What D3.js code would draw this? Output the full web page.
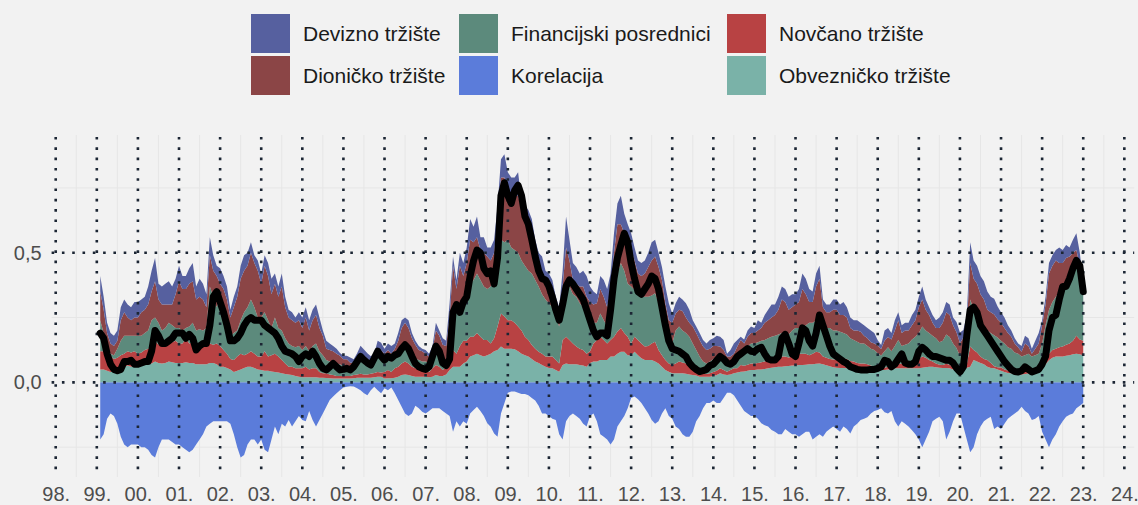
<!DOCTYPE html>
<html>
<head>
<meta charset="utf-8">
<script src="https://cdn.jsdelivr.net/npm/d3@7.9.0/dist/d3.min.js"></script>
<style>
  html, body { margin: 0; padding: 0; background: #f2f2f2; }
  svg { display: block; font-family: "Liberation Sans", Arial, sans-serif; }
</style>
</head>
<body>
<svg id="chart" width="1138" height="505"></svg>
<script>
// monthly values, Feb 1999 .. Jan 2023 (one line per year)
const obveznicko = [
  .05,.05,.045,.04,.045,.05,.06,.06,.065,.06,.065,
  .065,.065,.067,.07,.073,.08,.075,.073,.075,.08,.078,.075,
  .075,.075,.078,.075,.075,.07,.07,.07,.07,.075,.075,.07,
  .06,.06,.055,.05,.04,.045,.05,.055,.06,.06,.055,.05,
  .048,.045,.045,.042,.04,.038,.035,.032,.03,.028,.025,.022,
  .02,.02,.02,.02,.02,.018,.018,.017,.016,.015,.015,.015,
  .015,.015,.015,.016,.018,.018,.018,.018,.018,.02,.022,.022,
  .015,.016,.016,.018,.022,.028,.03,.028,.025,.022,.022,.022,
  .022,.02,.022,.028,.025,.025,.03,.048,.06,.06,.06,.073,
  .08,.10,.105,.11,.105,.10,.105,.11,.12,.125,.138,.13,
  .13,.13,.128,.12,.11,.105,.10,.09,.08,.075,.067,.06,
  .055,.054,.048,.041,.067,.073,.07,.07,.07,.067,.065,.06,
  .075,.08,.08,.086,.086,.086,.10,.10,.11,.118,.118,.105,
  .105,.118,.105,.093,.086,.086,.086,.08,.073,.06,.048,.041,
  .035,.035,.035,.035,.033,.03,.028,.026,.022,.022,.022,.022,
  .025,.028,.035,.03,.028,.03,.035,.038,.041,.042,.045,.048,
  .048,.05,.05,.052,.054,.056,.058,.06,.06,.062,.063,.065,
  .065,.067,.067,.068,.07,.07,.072,.073,.07,.066,.062,.058,
  .056,.055,.055,.054,.052,.05,.05,.05,.05,.05,.05,.048,
  .048,.048,.048,.05,.052,.054,.054,.054,.054,.054,.054,.054,
  .054,.056,.058,.06,.06,.058,.056,.055,.055,.054,.05,.045,
  .05,.052,.056,.06,.086,.08,.075,.07,.06,.055,.054,.05,
  .045,.04,.036,.035,.032,.03,.03,.032,.034,.036,.038,.04,
  .05,.07,.085,.095,.10,.10,.10,.103,.105,.108,.11,.108,
  .105
];
const novcano = [
  .07,.07,.065,.06,.045,.045,.045,.05,.055,.055,.055,
  .045,.05,.058,.06,.072,.08,.07,.067,.07,.08,.077,.085,
  .075,.075,.092,.075,.08,.07,.06,.07,.075,.075,.07,.08,
  .08,.065,.055,.04,.046,.055,.06,.05,.05,.06,.055,.05,
  .052,.075,.055,.063,.07,.062,.051,.041,.03,.032,.029,.032,
  .034,.04,.03,.034,.034,.022,.017,.018,.014,.013,.01,.01,
  .01,.01,.01,.012,.012,.015,.012,.012,.015,.016,.018,.016,
  .025,.032,.024,.036,.038,.045,.05,.045,.035,.032,.026,.026,
  .026,.02,.032,.039,.035,.023,.03,.038,.065,.05,.08,.087,
  .08,.076,.071,.08,.071,.063,.058,.04,.05,.09,.128,.124,
  .11,.11,.102,.095,.09,.071,.063,.054,.05,.043,.043,.04,
  .045,.046,.038,.032,.096,.103,.093,.08,.068,.063,.06,.05,
  .045,.07,.083,.09,.077,.064,.063,.076,.086,.092,.072,.071,
  .045,.058,.058,.057,.052,.054,.064,.077,.052,.045,.038,.032,
  .032,.038,.045,.042,.04,.037,.026,.022,.015,.01,.01,.013,
  .015,.017,.019,.018,.013,.018,.019,.016,.026,.022,.023,.025,
  .025,.025,.028,.028,.032,.034,.035,.036,.04,.038,.033,.035,
  .045,.043,.043,.042,.035,.04,.046,.042,.03,.029,.028,.03,
  .032,.035,.038,.036,.03,.03,.025,.023,.023,.02,.015,.012,
  .008,.008,.008,.01,.008,.011,.019,.018,.019,.019,.022,.026,
  .036,.044,.037,.026,.02,.015,.012,.012,.017,.014,.01,.008,
  .008,.008,.014,.078,.039,.035,.025,.02,.026,.02,.008,.008,
  .012,.01,.01,.008,.008,.008,.008,.01,.01,.01,.01,.01,
  .02,.02,.025,.03,.03,.035,.038,.042,.045,.052,.07,.057,
  .055
];
const financijski = [
  .12,.07,.03,.01,.015,.035,.055,.07,.06,.065,.06,
  .07,.065,.065,.07,.095,.09,.085,.06,.065,.07,.065,.05,
  .06,.05,.04,.065,.075,.06,.075,.06,.065,.22,.185,.14,
  .19,.165,.13,.09,.104,.10,.13,.165,.18,.20,.18,.15,
  .15,.15,.14,.105,.14,.11,.114,.097,.09,.08,.081,.086,
  .071,.08,.07,.086,.096,.08,.07,.051,.05,.045,.048,.045,
  .038,.038,.032,.029,.045,.048,.045,.039,.028,.038,.06,.045,
  .033,.038,.04,.046,.06,.067,.06,.052,.04,.039,.038,.032,
  .032,.035,.032,.043,.04,.032,.026,.074,.18,.16,.165,.17,
  .18,.204,.219,.23,.219,.207,.197,.22,.225,.27,.284,.286,
  .31,.28,.28,.285,.27,.274,.267,.276,.265,.252,.23,.22,
  .205,.19,.164,.142,.117,.204,.207,.19,.192,.175,.165,.156,
  .12,.08,.067,.09,.077,.065,.103,.194,.224,.25,.24,.204,
  .22,.181,.181,.18,.192,.19,.185,.187,.18,.161,.129,.09,
  .083,.127,.135,.123,.117,.109,.096,.077,.063,.048,.041,.045,
  .05,.05,.046,.038,.032,.032,.032,.051,.058,.046,.07,.077,
  .077,.08,.082,.083,.084,.086,.087,.089,.09,.09,.089,.10,
  .10,.10,.105,.11,.125,.12,.122,.125,.115,.115,.12,.112,
  .112,.105,.097,.095,.088,.083,.082,.077,.077,.07,.065,.065,
  .056,.048,.064,.075,.06,.075,.09,.068,.072,.077,.089,.096,
  .10,.115,.105,.104,.10,.097,.087,.093,.113,.107,.09,.08,
  .044,.042,.06,.182,.155,.155,.14,.13,.114,.115,.12,.115,
  .103,.10,.089,.087,.075,.072,.062,.063,.066,.054,.057,.06,
  .08,.13,.17,.185,.20,.215,.232,.245,.26,.27,.27,.255,
  .20
];
const dionicko = [
  .11,.09,.05,.04,.035,.03,.08,.09,.07,.06,.07,
  .07,.09,.09,.10,.11,.14,.09,.10,.09,.07,.08,.13,
  .18,.16,.15,.165,.16,.12,.125,.12,.08,.12,.10,.12,
  .05,.07,.08,.07,.10,.13,.16,.16,.16,.18,.17,.18,
  .13,.18,.17,.13,.13,.12,.17,.12,.10,.10,.095,.10,
  .085,.11,.08,.10,.11,.09,.075,.044,.045,.047,.037,.033,
  .026,.026,.019,.019,.02,.025,.02,.019,.02,.027,.03,.04,
  .037,.039,.03,.03,.04,.07,.09,.085,.07,.052,.039,.04,
  .03,.025,.039,.09,.08,.065,.054,.09,.145,.09,.145,.08,
  .12,.17,.145,.14,.115,.13,.125,.10,.105,.145,.24,.25,
  .19,.16,.21,.22,.195,.19,.18,.155,.115,.08,.08,.05,
  .055,.04,.04,.035,.09,.14,.10,.055,.05,.065,.08,.064,
  .07,.07,.075,.094,.09,.075,.094,.13,.19,.15,.145,.14,
  .14,.113,.076,.08,.09,.115,.135,.141,.14,.129,.09,.077,
  .08,.066,.065,.075,.06,.054,.065,.065,.063,.058,.052,.05,
  .05,.045,.038,.039,.027,.02,.024,.033,.038,.04,.038,.04,
  .04,.045,.05,.067,.07,.074,.08,.095,.13,.12,.095,.09,
  .09,.10,.145,.12,.08,.08,.13,.16,.075,.06,.06,.08,
  .08,.065,.07,.065,.04,.037,.043,.045,.03,.03,.025,.025,
  .03,.025,.04,.04,.045,.06,.077,.05,.055,.05,.055,.064,
  .10,.105,.08,.07,.05,.04,.055,.07,.085,.085,.07,.06,
  .05,.07,.09,.14,.12,.11,.10,.10,.08,.08,.08,.07,
  .07,.06,.055,.046,.035,.025,.018,.045,.03,.01,.025,.04,
  .07,.08,.14,.14,.14,.11,.09,.09,.075,.07,.06,.03,
  .01
];
const devizno = [
  .06,.05,.04,.04,.04,.04,.05,.05,.05,.05,.06,
  .06,.05,.05,.07,.08,.09,.06,.07,.08,.09,.07,.06,
  .06,.05,.05,.06,.07,.05,.07,.06,.05,.07,.06,.04,
  .06,.05,.05,.03,.04,.04,.05,.06,.05,.04,.03,.04,
  .04,.04,.05,.06,.04,.04,.05,.04,.03,.03,.02,.03,
  .04,.04,.04,.04,.04,.04,.02,.03,.025,.02,.02,.01,
  .014,.014,.02,.013,.017,.035,.032,.024,.02,.01,.03,.03,
  .02,.025,.03,.02,.03,.03,.02,.03,.02,.015,.015,.01,
  .015,.01,.015,.03,.02,.025,.02,.055,.035,.035,.05,.05,
  .06,.08,.06,.08,.05,.06,.035,.05,.05,.05,.07,.09,
  .07,.11,.07,.09,.035,.04,.055,.055,.04,.05,.065,.06,
  .06,.065,.04,.04,.06,.12,.08,.065,.065,.05,.06,.08,
  .06,.05,.035,.05,.065,.07,.06,.075,.08,.11,.075,.09,
  .065,.05,.05,.05,.05,.055,.07,.065,.055,.05,.065,.065,
  .036,.039,.05,.045,.055,.05,.025,.025,.027,.025,.025,.033,
  .03,.04,.038,.038,.01,.025,.04,.025,.013,.015,.024,.025,
  .02,.04,.02,.03,.04,.05,.04,.05,.05,.05,.05,.05,
  .04,.05,.06,.06,.05,.04,.05,.05,.03,.03,.03,.04,
  .04,.04,.05,.04,.04,.04,.04,.035,.04,.04,.045,.04,
  .02,.015,.04,.035,.025,.04,.03,.03,.03,.03,.04,.04,
  .04,.05,.04,.03,.03,.03,.04,.04,.04,.04,.03,.04,
  .04,.03,.04,.08,.07,.07,.07,.07,.07,.06,.06,.05,
  .04,.04,.03,.024,.02,.015,.022,.03,.03,.02,.03,.04,
  .02,.03,.04,.04,.04,.06,.05,.05,.035,.05,.065,.05,
  .01
];
const korelacija = [
  -.22,-.20,-.14,-.12,-.13,-.16,-.21,-.24,-.25,-.24,-.24,
  -.24,-.25,-.25,-.26,-.28,-.29,-.25,-.22,-.22,-.22,-.23,-.24,
  -.24,-.25,-.26,-.27,-.26,-.24,-.22,-.20,-.17,-.16,-.15,-.15,
  -.15,-.15,-.15,-.16,-.20,-.25,-.29,-.28,-.24,-.22,-.22,-.24,
  -.22,-.26,-.27,-.22,-.17,-.20,-.16,-.17,-.145,-.17,-.15,-.13,
  -.145,-.15,-.11,-.145,-.17,-.145,-.12,-.094,-.068,-.055,-.042,-.03,
  -.02,-.017,-.015,-.016,-.023,-.03,-.042,-.05,-.03,-.017,-.03,-.042,
  -.023,-.03,-.02,-.042,-.068,-.094,-.12,-.13,-.12,-.09,-.10,-.113,
  -.12,-.11,-.10,-.10,-.10,-.11,-.12,-.13,-.19,-.15,-.17,-.15,
  -.16,-.12,-.107,-.094,-.11,-.13,-.158,-.171,-.197,-.21,-.12,-.081,
  -.04,-.035,-.035,-.04,-.045,-.045,-.05,-.06,-.07,-.09,-.12,-.12,
  -.13,-.14,-.145,-.20,-.22,-.15,-.13,-.12,-.13,-.14,-.16,-.17,
  -.13,-.12,-.15,-.20,-.21,-.22,-.24,-.22,-.17,-.15,-.13,-.10,
  -.06,-.055,-.065,-.08,-.10,-.12,-.145,-.16,-.15,-.12,-.10,-.13,
  -.14,-.17,-.18,-.20,-.21,-.21,-.19,-.15,-.13,-.10,-.08,-.08,
  -.07,-.08,-.08,-.06,-.04,-.04,-.05,-.07,-.09,-.11,-.12,-.13,
  -.13,-.14,-.158,-.165,-.17,-.184,-.19,-.20,-.20,-.18,-.19,-.20,
  -.20,-.21,-.20,-.19,-.19,-.22,-.21,-.20,-.21,-.19,-.18,-.17,
  -.18,-.19,-.17,-.18,-.197,-.17,-.16,-.145,-.14,-.135,-.12,-.11,
  -.107,-.10,-.115,-.12,-.11,-.15,-.17,-.15,-.16,-.17,-.185,-.20,
  -.22,-.25,-.22,-.19,-.15,-.14,-.133,-.15,-.22,-.19,-.15,-.12,
  -.12,-.17,-.22,-.27,-.25,-.20,-.17,-.15,-.14,-.133,-.18,-.17,
  -.18,-.16,-.14,-.13,-.12,-.11,-.094,-.11,-.12,-.145,-.14,-.13,
  -.19,-.22,-.25,-.22,-.20,-.17,-.15,-.133,-.125,-.12,-.10,-.09,
  -.08
];
const indeks = [
  .19,.17,.11,.07,.05,.045,.05,.08,.08,.085,.07,
  .07,.075,.08,.08,.12,.20,.18,.15,.15,.16,.17,.19,
  .19,.19,.17,.185,.17,.125,.14,.15,.15,.22,.33,.35,
  .31,.27,.22,.16,.16,.17,.19,.22,.24,.25,.24,.24,
  .24,.22,.21,.20,.19,.17,.14,.12,.115,.11,.10,.08,
  .10,.11,.10,.12,.10,.073,.054,.048,.06,.073,.06,.048,
  .05,.054,.048,.06,.08,.10,.086,.075,.067,.093,.12,.10,
  .086,.10,.093,.105,.11,.13,.145,.13,.10,.073,.06,.054,
  .05,.06,.10,.14,.12,.075,.065,.09,.27,.30,.27,.31,
  .33,.41,.47,.51,.50,.44,.42,.43,.38,.48,.72,.77,
  .72,.69,.74,.76,.72,.64,.61,.55,.485,.43,.40,.395,
  .37,.33,.28,.24,.30,.37,.395,.38,.36,.34,.32,.28,
  .24,.20,.176,.19,.19,.18,.28,.40,.48,.53,.575,.54,
  .46,.40,.35,.34,.36,.38,.41,.40,.36,.29,.22,.16,
  .13,.125,.12,.11,.10,.075,.06,.05,.042,.045,.05,.065,
  .07,.085,.10,.09,.075,.07,.08,.10,.11,.12,.13,.12,
  .118,.13,.135,.11,.09,.086,.086,.10,.17,.185,.15,.11,
  .10,.15,.21,.20,.16,.14,.19,.26,.22,.18,.14,.11,
  .10,.09,.08,.073,.06,.055,.05,.048,.048,.048,.05,.05,
  .054,.06,.085,.08,.06,.07,.09,.11,.075,.07,.07,.08,
  .12,.135,.125,.11,.10,.10,.095,.09,.085,.085,.075,.055,
  .04,.06,.18,.28,.29,.27,.22,.20,.18,.16,.14,.12,
  .10,.08,.065,.05,.042,.04,.045,.06,.05,.04,.045,.05,
  .07,.10,.20,.25,.26,.32,.37,.37,.40,.44,.47,.45,
  .35
];
const yearTicks = d3.range(1998, 2025);
const yTicks = [0, 0.5];

const stackKeys = ['obveznicko', 'novcano', 'financijski', 'dionicko', 'devizno'];
const colors = {
  devizno: '#56609f',
  dionicko: '#8b4546',
  financijski: '#5c8a7c',
  korelacija: '#5b7cda',
  novcano: '#b84243',
  obveznicko: '#7ab2a8'
};
const legendItems = [
  { key: 'devizno', label: 'Devizno tržište' },
  { key: 'dionicko', label: 'Dioničko tržište' },
  { key: 'financijski', label: 'Financijski posrednici' },
  { key: 'korelacija', label: 'Korelacija' },
  { key: 'novcano', label: 'Novčano tržište' },
  { key: 'obveznicko', label: 'Obvezničko tržište' }
];

// build rows (first point is Feb 1999, one per month)
const rows = indeks.map((v, i) => ({
  t: 1999 + (i + 1) / 12,
  obveznicko: obveznicko[i],
  novcano: novcano[i],
  financijski: financijski[i],
  dionicko: dionicko[i],
  devizno: devizno[i],
  korelacija: korelacija[i],
  indeks: v
}));

const svg = d3.select('#chart');
const panel = { left: 51.6, right: 1134.2, top: 135, bottom: 477 };

const x = d3.scaleLinear().domain([1997.9, 2024.24]).range([panel.left, panel.right]);
const y = d3.scaleLinear().domain([-0.365, 0.954]).range([panel.bottom, panel.top]);

svg.append('rect').attr('width', 1138).attr('height', 505).attr('fill', '#f2f2f2');

// faint minor grid
const grid = svg.append('g');
grid.selectAll('.mx').data(d3.range(1998.5, 2024, 1)).join('line')
  .attr('x1', d => x(d)).attr('x2', d => x(d))
  .attr('y1', panel.top).attr('y2', panel.bottom)
  .attr('stroke', '#e6e6e6').attr('stroke-width', 1);
grid.selectAll('.my').data([-0.25, 0.25, 0.75]).join('line')
  .attr('x1', panel.left).attr('x2', panel.right)
  .attr('y1', d => y(d)).attr('y2', d => y(d))
  .attr('stroke', '#e6e6e6').attr('stroke-width', 1);

// correlation area (below zero)
svg.append('path')
  .datum(rows)
  .attr('fill', colors.korelacija)
  .attr('d', d3.area().x(d => x(d.t)).y0(y(0)).y1(d => y(d.korelacija)));

// stacked components
const stacked = d3.stack().keys(stackKeys)(rows);
const area = d3.area()
  .x(d => x(d.data.t))
  .y0(d => y(d[0]))
  .y1(d => y(d[1]));

svg.append('g').selectAll('path').data(stacked).join('path')
  .attr('fill', d => colors[d.key])
  .attr('d', area);

// dotted major grid on top
const dots = svg.append('g')
  .attr('stroke', '#1c2634').attr('stroke-width', 2.6)
  .attr('stroke-dasharray', '2.6,7.7');
dots.selectAll('.vx').data(yearTicks).join('line')
  .attr('x1', d => x(d)).attr('x2', d => x(d))
  .attr('y1', panel.top + 2).attr('y2', panel.bottom);
dots.selectAll('.hy').data(yTicks).join('line')
  .attr('x1', panel.left).attr('x2', panel.right)
  .attr('y1', d => y(d)).attr('y2', d => y(d));

// composite index line
svg.append('path')
  .datum(rows)
  .attr('fill', 'none')
  .attr('stroke', '#000')
  .attr('stroke-width', 7)
  .attr('stroke-linejoin', 'round')
  .attr('stroke-linecap', 'round')
  .attr('d', d3.line().x(d => x(d.t)).y(d => y(d.indeks)));

// axes
const xAxis = svg.append('g')
  .attr('transform', `translate(0,${panel.bottom})`)
  .call(d3.axisBottom(x).tickValues(yearTicks)
    .tickFormat(d => String(d).slice(2) + '.')
    .tickSize(0).tickPadding(10));
xAxis.select('.domain').remove();
xAxis.selectAll('text')
  .attr('fill', '#4d4d4d')
  .style('font-size', '20px')
  .style('font-family', '"Liberation Sans", Arial, sans-serif');

const yAxis = svg.append('g')
  .attr('transform', `translate(${panel.left},0)`)
  .call(d3.axisLeft(y).tickValues(yTicks)
    .tickFormat(d => d3.format('.1f')(d).replace('.', ','))
    .tickSize(0).tickPadding(10));
yAxis.select('.domain').remove();
yAxis.selectAll('text')
  .attr('fill', '#4d4d4d')
  .style('font-size', '20px')
  .style('font-family', '"Liberation Sans", Arial, sans-serif');

// legend: 2 rows, filled column by column
const colX = [251, 459, 727];
const rowY = [14, 56];
const legend = svg.append('g');
legendItems.forEach((d, i) => {
  const gx = colX[Math.floor(i / 2)];
  const gy = rowY[i % 2];
  legend.append('rect')
    .attr('x', gx).attr('y', gy)
    .attr('width', 39).attr('height', 39)
    .attr('fill', colors[d.key]);
  legend.append('text')
    .attr('x', gx + 52).attr('y', gy + 19.5)
    .attr('dy', '0.35em')
    .attr('fill', '#1a1a1a')
    .style('font-size', '21px')
    .text(d.label);
});
</script>
</body>
</html>
